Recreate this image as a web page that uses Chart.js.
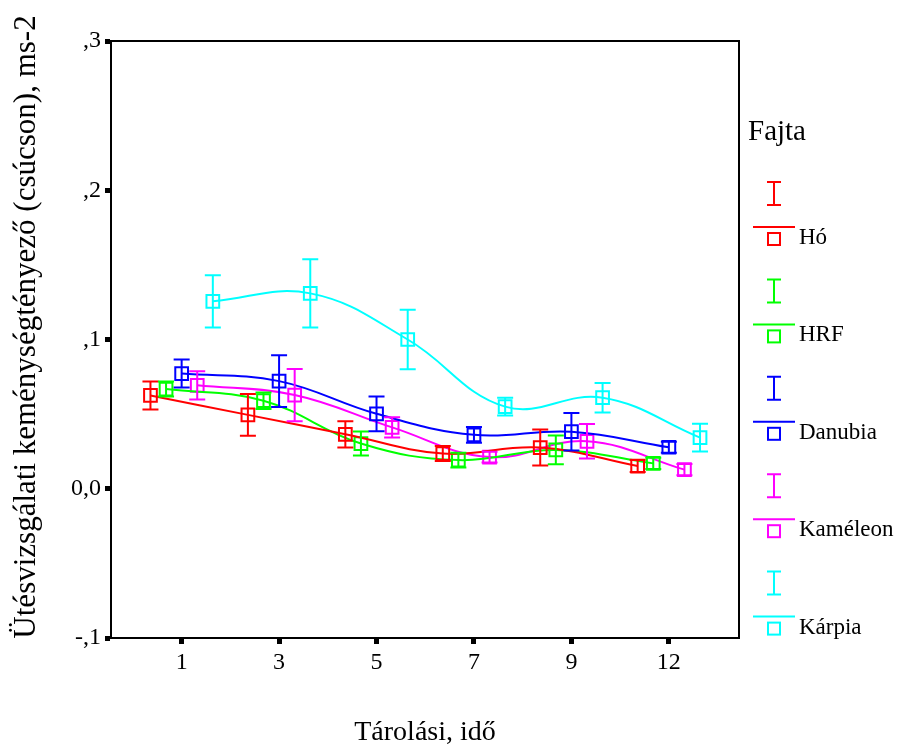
<!DOCTYPE html>
<html>
<head>
<meta charset="utf-8">
<script src="https://cdn.jsdelivr.net/npm/chart.js"></script>
<style>body{margin:0;background:#fff}</style>
</head>
<body>
<canvas id="chart" width="900" height="749"></canvas>
<script>
// storage time categories (x axis)
const categories = ['1', '3', '5', '7', '9', '12'];
const yTickLabels = ['-,1', '0,0', ',1', ',2', ',3'];
const varieties = ['Hó', 'HRF', 'Danubia', 'Kaméleon', 'Kárpia'];

// means and error bar half widths per variety
const hoMean = [0.0625, 0.0495, 0.0365, 0.0236, 0.0276, 0.0152];
const hoErr = [0.0094, 0.0140, 0.0088, 0.0050, 0.0121, 0.0040];
const hrfMean = [0.0668, 0.0590, 0.0303, 0.0192, 0.0260, 0.0170];
const hrfErr = [0.0050, 0.0055, 0.0080, 0.0049, 0.0096, 0.0037];
const danubiaMean = [0.0772, 0.0721, 0.0502, 0.0361, 0.0382, 0.0278];
const danubiaErr = [0.0094, 0.0174, 0.0116, 0.0053, 0.0125, 0.0037];
const kameleonMean = [0.0693, 0.0628, 0.0411, 0.0212, 0.0318, 0.0128];
const kameleonErr = [0.0095, 0.0175, 0.0068, 0.0036, 0.0115, 0.0038];
const karpiaMean = [0.1256, 0.1309, 0.1000, 0.0550, 0.0610, 0.0343];
const karpiaErr = [0.0175, 0.0229, 0.0199, 0.0060, 0.0099, 0.0093];

const xTitle = 'Tárolási, idő';
const yTitle = 'Ütésvizsgálati keménységtényező (csúcson), ms-2';

const means = [hoMean, hrfMean, danubiaMean, kameleonMean, karpiaMean];
const errs = [hoErr, hrfErr, danubiaErr, kameleonErr, karpiaErr];
const colors = ['#ff0000', '#00ff00', '#0000ff', '#ff00ff', '#00ffff'];
const offsets = [-0.32, -0.16, 0, 0.16, 0.32];
const serif = '"Liberation Serif", "Times New Roman", serif';

const datasets = varieties.map((name, s) => ({
    label: name,
    data: means[s].map((m, i) => ({x: i + offsets[s], y: m})),
    errors: errs[s],
    borderColor: colors[s],
    borderWidth: 2,
    tension: 0.4,
    fill: false,
    pointStyle: 'rect',
    pointRadius: 9,
    pointBorderWidth: 2,
    pointBorderColor: colors[s],
    pointBackgroundColor: 'rgba(0,0,0,0)'
}));

const errorBars = {
    id: 'errorBars',
    afterDatasetsDraw(chart) {
        const ctx = chart.ctx, y = chart.scales.y;
        chart.data.datasets.forEach((ds, di) => {
            const meta = chart.getDatasetMeta(di);
            ctx.save();
            ctx.strokeStyle = ds.borderColor;
            ctx.lineWidth = 2;
            meta.data.forEach((pt, i) => {
                const m = ds.data[i].y, e = ds.errors[i];
                const top = y.getPixelForValue(m + e), bot = y.getPixelForValue(m - e);
                ctx.beginPath();
                ctx.moveTo(pt.x, top); ctx.lineTo(pt.x, bot);
                ctx.moveTo(pt.x - 8, top); ctx.lineTo(pt.x + 8, top);
                ctx.moveTo(pt.x - 8, bot); ctx.lineTo(pt.x + 8, bot);
                ctx.stroke();
            });
            ctx.restore();
        });
    }
};

const frameAndLegend = {
    id: 'frameAndLegend',
    afterDraw(chart) {
        const ctx = chart.ctx, a = chart.chartArea;
        ctx.save();
        ctx.strokeStyle = '#000';
        ctx.lineWidth = 2;
        ctx.strokeRect(a.left, a.top, a.right - a.left, a.bottom - a.top);

        // y axis title
        ctx.save();
        ctx.translate(27, 327);
        ctx.rotate(-Math.PI / 2);
        ctx.fillStyle = '#000';
        ctx.font = '31px ' + serif;
        ctx.textAlign = 'center';
        ctx.textBaseline = 'middle';
        ctx.fillText(yTitle, 0, 0);
        ctx.restore();

        // legend
        ctx.fillStyle = '#000';
        ctx.textBaseline = 'middle';
        ctx.font = '29px ' + serif;
        ctx.fillText('Fajta', 748, 132);
        ctx.font = '23px ' + serif;
        chart.data.datasets.forEach((ds, i) => {
            const cy = 239 + i * 97.4, cx = 774;
            ctx.strokeStyle = ds.borderColor;
            ctx.lineWidth = 2;
            ctx.beginPath();
            ctx.moveTo(cx, cy - 57); ctx.lineTo(cx, cy - 34);
            ctx.moveTo(cx - 7, cy - 57); ctx.lineTo(cx + 7, cy - 57);
            ctx.moveTo(cx - 7, cy - 34); ctx.lineTo(cx + 7, cy - 34);
            ctx.moveTo(753, cy - 12); ctx.lineTo(795, cy - 12);
            ctx.stroke();
            ctx.strokeRect(cx - 6, cy - 6, 12, 12);
            ctx.fillText(ds.label, 799, cy - 1);
        });
        ctx.restore();
    }
};

new Chart(document.getElementById('chart'), {
    type: 'line',
    data: {datasets: datasets},
    plugins: [errorBars, frameAndLegend],
    options: {
        responsive: false,
        animation: false,
        devicePixelRatio: 1,
        layout: {padding: {left: 0, top: 41, right: 161, bottom: 0}},
        plugins: {legend: {display: false}, tooltip: {enabled: false}},
        scales: {
            x: {
                type: 'linear',
                min: -0.725,
                max: 5.72,
                afterFit: s => { s.height = 111; },
                afterBuildTicks: s => { s.ticks = categories.map((c, i) => ({value: i})); },
                grid: {drawOnChartArea: false, tickLength: 6, tickWidth: 5, tickColor: '#000'},
                border: {display: true, color: '#000', width: 2},
                ticks: {
                    padding: 4,
                    color: '#000',
                    font: {family: serif, size: 24},
                    callback: v => categories[v]
                },
                title: {
                    display: true,
                    text: xTitle,
                    color: '#000',
                    font: {family: serif, size: 28, lineHeight: 1.1},
                    padding: {top: 0, bottom: 1}
                }
            },
            y: {
                min: -0.1,
                max: 0.3,
                afterFit: s => { s.width = 111; },
                ticks: {
                    stepSize: 0.1,
                    padding: 4,
                    color: '#000',
                    font: {family: serif, size: 24},
                    callback: (v, i) => yTickLabels[i]
                },
                grid: {drawOnChartArea: false, tickLength: 6, tickWidth: 5, tickColor: '#000'},
                border: {display: true, color: '#000', width: 2}
            }
        }
    }
});
</script>
</body>
</html>
